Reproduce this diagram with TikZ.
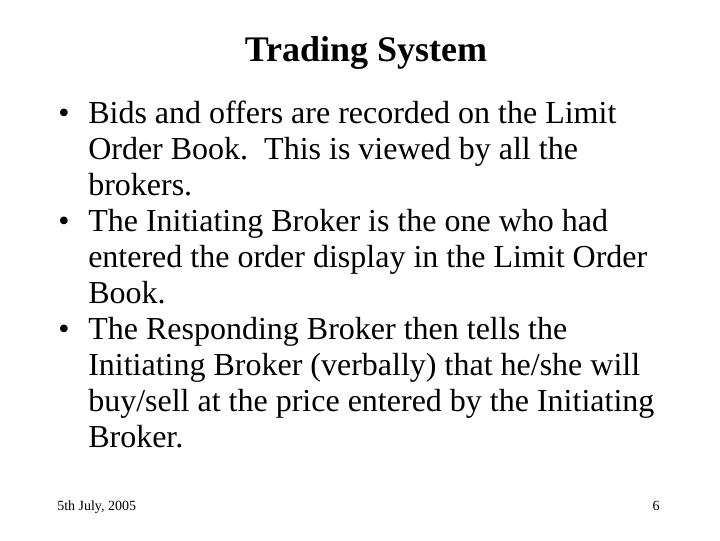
\documentclass[tikz,border=0pt]{standalone}
\usepackage{fontspec}
\setmainfont{Liberation Serif}
\begin{document}
\begin{tikzpicture}[x=0.75pt,y=-0.75pt,
  bl/.style={anchor=base west,inner sep=0pt,font=\fontsize{24}{28}\selectfont},
  bu/.style={anchor=base west,inner sep=0pt,font=\fontsize{24}{28}\selectfont}]
\useasboundingbox (0,0) rectangle (720,540);
\node[inner sep=0pt,anchor=base,font=\bfseries\fontsize{27}{31}\selectfont] (t) at (366,61) {Trading System};
\node[bu] (b1) at (58,123) {•};
\node[bl] (l1) at (88,123) {Bids and offers are recorded on the Limit};
\node[bl] (l2) at (88,159) {Order Book.\ \ This is viewed by all the};
\node[bl] (l3) at (88,195) {brokers.};
\node[bu] (b2) at (58,231) {•};
\node[bl] (l4) at (88,231) {The Initiating Broker is the one who had};
\node[bl] (l5) at (88,267) {entered the order display in the Limit Order};
\node[bl] (l6) at (88,303) {Book.};
\node[bu] (b3) at (58,339) {•};
\node[bl] (l7) at (88,339) {The Responding Broker then tells the};
\node[bl] (l8) at (88,375) {Initiating Broker (verbally) that he/she will};
\node[bl] (l9) at (88,411) {buy/sell at the price entered by the Initiating};
\node[bl] (l10) at (88,447) {Broker.};
\node[anchor=base west,inner sep=0pt,font=\fontsize{10.5}{12}\selectfont] (f1) at (57,510) {5th July, 2005};
\node[anchor=base east,inner sep=0pt,font=\fontsize{10.5}{12}\selectfont] (f2) at (660,510) {6};
\end{tikzpicture}
\end{document}
